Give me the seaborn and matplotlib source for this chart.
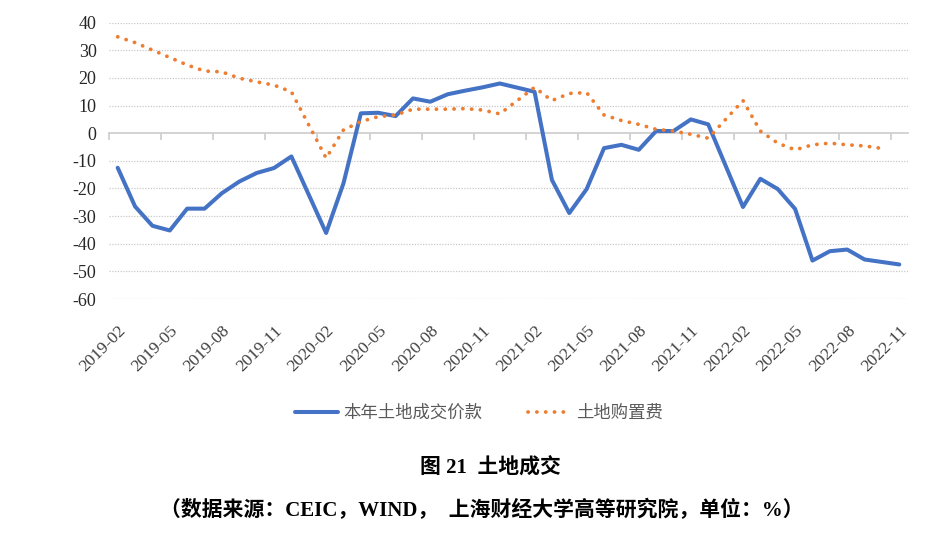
import numpy as np
import pandas as pd
import matplotlib
matplotlib.use("Agg")
import matplotlib.pyplot as plt
import seaborn as sns
from matplotlib.ticker import FixedLocator, NullFormatter

# ---- data ----
months = [str(p) for p in pd.period_range("2019-02", "2022-11", freq="M")]
land_price = [-12.5, -26.5, -33.5, -35.2, -27.3, -27.3, -21.7, -17.5, -14.4, -12.6, -8.4, np.nan,
              -36.1, -18.1, 7.2, 7.4, 6.2, 12.6, 11.4, 14.1, 15.4, 16.6, 18.0, np.nan,
              15.0, -16.9, -28.9, -20.2, -5.4, -4.2, -6.0, 0.8, 0.8, 5.0, 3.2, np.nan,
              -26.7, -16.5, -20.2, -27.4, -46.1, -42.7, -42.1, -45.7, -46.6, -47.5]
land_purchase = [34.9, 32.8, 30.1, 27.4, 24.7, 22.5, 22.2, 19.9, 18.6, 17.4, 15.0, np.nan,
                 -9.0, 1.2, 4.2, 6.0, 6.6, 8.7, 8.7, 8.7, 8.9, 8.4, 7.0, np.nan,
                 16.6, 11.8, 14.4, 14.7, 6.6, 4.6, 3.2, 1.4, 0.8, -0.4, -1.8, np.nan,
                 11.8, 0.8, -3.6, -6.0, -4.2, -3.6, -4.2, -4.6, -5.5, np.nan]
series_names = ["本年土地成交价款", "土地购置费"]
yticks = [40, 30, 20, 10, 0, -10, -20, -30, -40, -50, -60]
title_text = "图 21  土地成交"
source_text = "（数据来源：CEIC，WIND，  上海财经大学高等研究院，单位：%）"

df = pd.DataFrame({"idx": np.arange(len(months)), "month": months,
                   series_names[0]: land_price, series_names[1]: land_purchase})

sns.set_theme(style="white")
plt.rcParams["font.family"] = ["Liberation Serif", "Noto Sans CJK SC", "DejaVu Sans"]

fig = plt.figure(figsize=(9.5, 5.44), dpi=100)
ax = fig.add_axes([109 / 950, 1 - 299 / 544, (908 - 109) / 950, (299 - 22.7) / 544])

blue = "#4472C4"
orange = "#ED7D31"
sns.lineplot(data=df, x="idx", y=series_names[0], ax=ax, color=blue, linewidth=2.9,
             estimator=None, errorbar=None, label=series_names[0], solid_capstyle="round",
             solid_joinstyle="round", zorder=3)
sns.lineplot(data=df, x="idx", y=series_names[1], ax=ax, color=orange, linewidth=2.7,
             estimator=None, errorbar=None, label=series_names[1],
             linestyle=(0, (0.05, 2.3)), dash_capstyle="round", zorder=4)

ax.set_xlim(-0.5, len(months) - 0.5)
ax.set_ylim(-60, 40)
ax.set_yticks(yticks)
ax.set_yticklabels([str(v) for v in yticks])
ax.tick_params(axis="y", length=0, pad=9, labelsize=13, labelcolor="#262626")
for v in yticks:
    if v != 0:
        ax.axhline(v, color="#C8C8C8", linewidth=0.9, linestyle=(0, (1, 1.2)), zorder=0)

# category labels every 3 months
lab_pos = list(range(0, len(months), 3))
ax.set_xticks(lab_pos)
ax.set_xticklabels([months[i] for i in lab_pos], rotation=45, ha="right",
                   rotation_mode="anchor", fontsize=12.5, color="#404040")
ax.tick_params(axis="x", length=0, pad=17)
ax.set_xlabel("")
ax.set_ylabel("")
for s in ax.spines.values():
    s.set_visible(False)

# horizontal axis drawn at zero with boundary tick marks
sec = ax.secondary_xaxis(0, transform=ax.transData)
sec.set_alignment("bottom")
sec.spines["bottom"].set_visible(True)
sec.spines["bottom"].set_color("#D0D0D0")
sec.spines["bottom"].set_linewidth(1.3)
sec.xaxis.set_major_locator(FixedLocator([i - 0.5 for i in range(0, len(months) + 1, 3)]))
sec.xaxis.set_major_formatter(NullFormatter())
sec.tick_params(axis="x", direction="out", length=5, width=1.3, color="#D0D0D0")

handles, labels = ax.get_legend_handles_labels()
ax.get_legend().remove()
leg = fig.legend(handles, labels, loc="center", bbox_to_anchor=(479 / 950, 1 - 413 / 544),
                 ncol=2, frameon=False, handlelength=2.5, handletextpad=0.3,
                 columnspacing=2.6, prop={"family": ["Noto Sans CJK SC"], "size": 12.5})
for t in leg.get_texts():
    t.set_color("#595959")

fig.text(490 / 950, 1 - 468 / 544, title_text, ha="center", va="center", fontsize=15,
         fontweight="bold", color="#000000")
fig.text(482 / 950, 1 - 510 / 544, source_text, ha="center", va="center", fontsize=15,
         fontweight="bold", color="#000000")

fig.savefig("out.png", dpi=100, facecolor="white")
